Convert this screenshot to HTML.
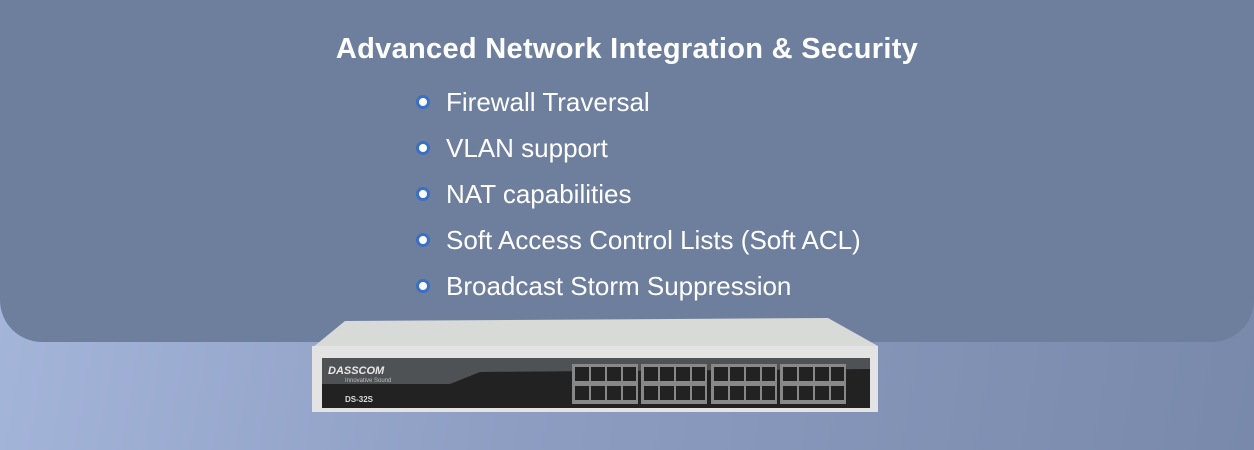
<!DOCTYPE html>
<html><head><style>
body{margin:0;width:1254px;height:450px;overflow:hidden;background:linear-gradient(100deg,#a6b7dc 0%,#8d9dc2 45%,#7889ab 100%);font-family:"Liberation Sans",Arial,sans-serif;position:relative}
.panel{position:absolute;left:0;top:-40px;width:1254px;height:382px;background:#6e7f9d;border-radius:0 0 42px 42px}
h1{position:absolute;left:0;width:1254px;top:33px;margin:0;text-align:center;color:#fff;font-size:29px;font-weight:bold;letter-spacing:0.3px}
.li{position:absolute;left:446px;color:#fff;font-size:26px;line-height:26px}
.li:before{content:"";position:absolute;left:-30px;top:6px;width:8px;height:8px;border-radius:50%;background:#fff;border:3px solid #3a6fc4;box-sizing:content-box;}
</style></head><body>
<div class="panel"></div>
<h1>Advanced Network Integration &amp; Security</h1>
<div class="li" style="top:89px">Firewall Traversal</div>
<div class="li" style="top:135px">VLAN support</div>
<div class="li" style="top:181px">NAT capabilities</div>
<div class="li" style="top:227px">Soft Access Control Lists (Soft ACL)</div>
<div class="li" style="top:273px">Broadcast Storm Suppression</div>
<svg style="position:absolute;left:0;top:0" width="1254" height="450">
<polygon points="345,321 828,318 878,346 312,348" fill="#d8dad8"/>
<rect x="312" y="346" width="566" height="66" fill="#e2e3e2"/>
<rect x="322" y="358" width="548" height="50" fill="#222"/>
<polygon points="322,358 870,358 870,369 480,372 450,384 322,384" fill="#4f5254"/>
<text x="328" y="374" fill="#e8e8e8" font-size="11" font-style="italic" font-weight="bold" font-family="Liberation Sans">DASSCOM</text>
<text x="345" y="382" fill="#bbb" font-size="6" font-family="Liberation Sans">Innovative Sound</text>
<text x="345" y="402" fill="#ddd" font-size="8" font-weight="bold" font-family="Liberation Sans">DS-32S</text>
<g fill="#888">
<rect x="572" y="364" width="66" height="40"/><rect x="641" y="364" width="66" height="40"/><rect x="711" y="364" width="66" height="40"/><rect x="780" y="364" width="66" height="40"/>
</g>
<g fill="#222">
<rect x="575" y="367" width="14" height="14"/><rect x="591" y="367" width="14" height="14"/><rect x="607" y="367" width="14" height="14"/><rect x="623" y="367" width="13" height="14"/>
<rect x="575" y="386" width="14" height="14"/><rect x="591" y="386" width="14" height="14"/><rect x="607" y="386" width="14" height="14"/><rect x="623" y="386" width="13" height="14"/>
<rect x="644" y="367" width="14" height="14"/><rect x="660" y="367" width="14" height="14"/><rect x="676" y="367" width="14" height="14"/><rect x="692" y="367" width="13" height="14"/>
<rect x="644" y="386" width="14" height="14"/><rect x="660" y="386" width="14" height="14"/><rect x="676" y="386" width="14" height="14"/><rect x="692" y="386" width="13" height="14"/>
<rect x="714" y="367" width="14" height="14"/><rect x="730" y="367" width="14" height="14"/><rect x="746" y="367" width="14" height="14"/><rect x="762" y="367" width="13" height="14"/>
<rect x="714" y="386" width="14" height="14"/><rect x="730" y="386" width="14" height="14"/><rect x="746" y="386" width="14" height="14"/><rect x="762" y="386" width="13" height="14"/>
<rect x="783" y="367" width="14" height="14"/><rect x="799" y="367" width="14" height="14"/><rect x="815" y="367" width="14" height="14"/><rect x="831" y="367" width="13" height="14"/>
<rect x="783" y="386" width="14" height="14"/><rect x="799" y="386" width="14" height="14"/><rect x="815" y="386" width="14" height="14"/><rect x="831" y="386" width="13" height="14"/>
</g>
</svg>
</body></html>
